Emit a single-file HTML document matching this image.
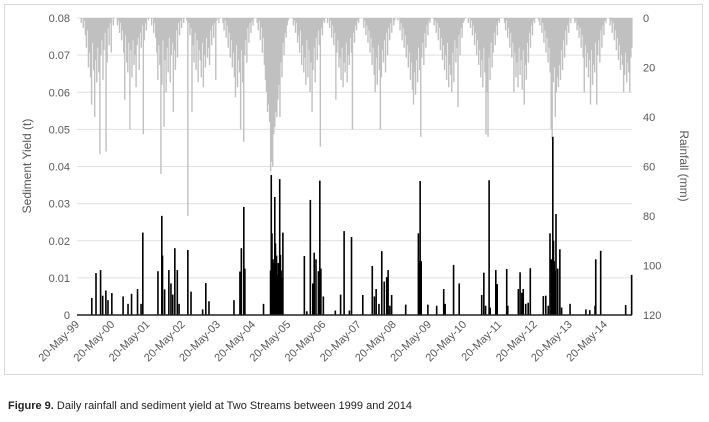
<!DOCTYPE html>
<html><head><meta charset="utf-8"><style>
body{margin:0;background:#fff;width:709px;height:422px;overflow:hidden;font-family:"Liberation Sans",sans-serif}
#cap{position:absolute;left:8px;top:400px;font-size:11px;color:#222}
</style></head><body>
<svg id="chart" width="709" height="422" style="position:absolute;left:0;top:0">
<rect x="4.5" y="4.5" width="698" height="370" fill="none" stroke="#d9d9d9"/>
<g id="grid"></g><g id="rain"></g><g id="sed"></g><g id="axes"></g>
<text transform="translate(31,166) rotate(-90)" text-anchor="middle" font-size="12" fill="#595959">Sediment Yield (t)</text>
<text transform="translate(680,166) rotate(90)" text-anchor="middle" font-size="12" fill="#595959">Rainfall (mm)</text>
</svg>
<div id="cap"><b>Figure 9.</b> Daily rainfall and sediment yield at Two Streams between 1999 and 2014</div>
<script>
const xTickYears=[1999,2000,2001,2002,2003,2004,2005,2006,2007,2008,2009,2010,2011,2012,2013,2014];
const xTickLabels=["20-May-99","20-May-00","20-May-01","20-May-02","20-May-03","20-May-04","20-May-05","20-May-06","20-May-07","20-May-08","20-May-09","20-May-10","20-May-11","20-May-12","20-May-13","20-May-14"];
const yTicks=[0,0.01,0.02,0.03,0.04,0.05,0.06,0.07,0.08];
const yTickLabels=["0","0.01","0.02","0.03","0.04","0.05","0.06","0.07","0.08"];
const y2Ticks=[0,20,40,60,80,100,120];
const rainSeasonStart=[1999.50,2000.50,2001.50,2002.50,2003.50,2004.50,2005.50,2006.50,2007.50,2008.50,2009.50,2010.50,2011.50,2012.50,2013.50,2014.50];
const rainStep=1/34;
const rainMm=[
[2,0,4,1,7,12,5,20,14,24,35,10,21,40,17,26,12,22,55,15,9,25,13,6,54,18,4,11,2,14,0,3],
[0,3,1,6,2,9,5,14,33,7,18,22,10,45,13,24,9,19,15,28,11,8,21,6,12,3,47,9,2,5,0,1],
[3,0,6,2,8,14,25,11,19,63,27,9,44,17,30,12,22,8,26,15,10,38,13,21,5,16,2,7,1,4,0,2],
[1,80,2,7,4,38,11,18,6,21,9,26,13,17,24,10,28,15,20,8,16,12,19,5,11,3,8,2,25,1,0,2],
[0,2,5,1,8,3,12,6,16,9,20,14,24,32,11,28,17,22,45,13,26,50,15,9,18,4,10,2,6,1,3,0],
[2,5,1,9,4,14,8,19,25,30,38,35,42,62,58,60,47,44,38,40,33,27,40,18,24,10,15,6,8,3,1,0],
[0,3,1,6,2,10,7,14,5,19,11,22,16,27,9,24,13,30,18,38,21,12,26,8,17,5,11,52,4,7,1,2],
[2,0,4,1,8,3,11,6,33,14,9,20,16,25,12,28,18,22,10,26,15,19,8,14,45,6,10,3,5,1,2,0],
[0,4,1,7,3,10,5,14,8,19,12,23,30,16,27,11,21,45,24,13,18,9,22,6,15,4,9,2,6,0,3,1],
[1,0,5,2,9,4,12,7,16,11,20,14,25,18,29,35,22,31,17,26,12,21,48,16,10,19,6,12,3,7,1,2],
[0,3,1,6,2,9,4,13,8,17,11,21,15,25,10,28,19,23,30,14,26,9,18,12,36,7,15,4,8,2,1,0],
[2,0,4,1,7,3,11,6,15,9,19,13,24,17,28,12,22,47,30,48,16,25,10,20,14,6,11,3,7,1,2,0],
[0,2,5,1,8,4,12,6,16,10,30,14,24,18,28,12,23,17,29,13,35,19,25,10,18,6,12,3,7,1,2,0],
[1,3,0,6,2,10,5,14,8,18,12,22,45,49,26,20,40,30,24,28,19,25,13,21,9,16,5,11,3,6,0,2],
[0,2,1,5,3,8,4,12,7,16,30,11,20,14,24,17,35,13,27,19,22,10,35,15,9,18,5,12,3,7,1,2],
[0,3,1,6,2,9,5,13,8,17,11,21,15,19,30,23,14,26,18,22,30,16,12,20,24,10,14,6,9,3,5,1]
];
const sedYear=[1999.80,1999.92,2000.05,2000.11,2000.20,2000.26,2000.37,2000.69,2000.83,2000.93,2001.10,2001.20,2001.25,2001.68,2001.79,2001.81,2001.87,2001.99,2002.05,2002.10,2002.16,2002.23,2002.28,2002.53,2002.62,2002.95,2003.04,2003.13,2003.84,2004.01,2004.05,2004.12,2004.15,2004.68,2004.88,2004.90,2004.92,2004.95,2004.97,2005.00,2005.02,2005.05,2005.08,2005.10,2005.14,2005.16,2005.18,2005.20,2005.23,2005.84,2005.91,2006.01,2006.08,2006.12,2006.17,2006.24,2006.28,2006.31,2006.38,2006.72,2006.87,2006.97,2007.12,2007.18,2007.50,2007.77,2007.83,2007.88,2007.96,2008.04,2008.11,2008.18,2008.22,2008.27,2008.32,2008.72,2009.08,2009.10,2009.13,2009.16,2009.35,2009.60,2009.80,2009.84,2010.08,2010.24,2010.88,2010.94,2010.99,2011.09,2011.12,2011.28,2011.32,2011.59,2011.62,2011.92,2011.97,2012.02,2012.06,2012.13,2012.20,2012.26,2012.63,2012.70,2012.77,2012.82,2012.86,2012.90,2012.92,2012.94,2012.96,2012.99,2013.04,2013.10,2013.15,2013.39,2013.84,2013.95,2014.10,2014.12,2014.26,2014.97,2015.14];
const sedT=[0.0046,0.0113,0.0121,0.0052,0.0066,0.0040,0.0059,0.0050,0.0030,0.0057,0.0070,0.0030,0.0222,0.0118,0.0267,0.0160,0.0069,0.0121,0.0085,0.0055,0.0180,0.0121,0.0030,0.0175,0.0063,0.0015,0.0086,0.0037,0.0040,0.0117,0.0180,0.0291,0.0125,0.0030,0.0120,0.0377,0.0220,0.0150,0.0140,0.0318,0.0193,0.0160,0.0107,0.0140,0.0366,0.0162,0.0120,0.0100,0.0222,0.0159,0.0010,0.0310,0.0085,0.0168,0.0150,0.0118,0.0362,0.0125,0.0050,0.0012,0.0055,0.0226,0.0012,0.0210,0.0054,0.0132,0.0050,0.0070,0.0030,0.0172,0.0090,0.0102,0.0121,0.0025,0.0054,0.0028,0.0220,0.0145,0.0361,0.0145,0.0028,0.0025,0.0070,0.0030,0.0135,0.0085,0.0054,0.0114,0.0025,0.0363,0.0020,0.0121,0.0083,0.0124,0.0025,0.0070,0.0115,0.0060,0.0070,0.0030,0.0033,0.0126,0.0051,0.0052,0.0025,0.0220,0.0150,0.0480,0.0200,0.0145,0.0120,0.0272,0.0125,0.0177,0.0020,0.0030,0.0015,0.0013,0.0025,0.0150,0.0173,0.0027,0.0108];

const L=77,R=632,T=18,B=315,X0=1999.38,X1=2015.15;
const xS=y=>L+(y-X0)/(X1-X0)*(R-L);
const yS=v=>B-v/0.08*(B-T);
const y2S=v=>T+v/120*(B-T);
const NS="http://www.w3.org/2000/svg";
function mk(tag,attrs,parent){const e=document.createElementNS(NS,tag);for(const k in attrs)e.setAttribute(k,attrs[k]);parent.appendChild(e);return e;}
const grid=document.getElementById('grid'),axes=document.getElementById('axes'),rain=document.getElementById('rain'),sed=document.getElementById('sed');
yTicks.forEach((v,i)=>{
  if(i>0){const g=mk('line',{x1:L,x2:R,y1:yS(v),y2:yS(v),stroke:'#e0e0e0'},grid);
  
  }
  const t=mk('text',{x:70,y:yS(v)+4,'text-anchor':'end','font-size':11,fill:'#595959'},axes);t.textContent=yTickLabels[i];
  
  
});
y2Ticks.forEach(v=>{
  const t=mk('text',{x:643,y:y2S(v)+4,'text-anchor':'start','font-size':11,fill:'#595959'},axes);t.textContent=v;
  
  
});
rainMm.forEach((arr,k)=>{arr.forEach((mm,i)=>{
  const yr=rainSeasonStart[k]+i*rainStep;const x=xS(yr);if(x>R||mm<=0)return;
  const r=mk('rect',{x:x-0.7,y:T,width:1.4,height:y2S(mm)-T,fill:'#c0c0c0'},rain);
  
  
});});
sedYear.forEach((yr,i)=>{
  const x=xS(yr);if(x>R+1)return;
  const r=mk('rect',{x:x-0.8,y:yS(sedT[i]),width:1.6,height:B-yS(sedT[i]),fill:'#000'},sed);
  
  
});
const ax=mk('line',{x1:L,x2:R,y1:B,y2:B,stroke:'#222','stroke-width':1.5},axes);


xTickYears.forEach((yr,i)=>{
  const x=xS(yr+0.38);
  const t=mk('text',{transform:`translate(${x+3},${B+10}) rotate(-45)`,'text-anchor':'end','font-size':11,fill:'#595959'},axes);t.textContent=xTickLabels[i];
  
  
});
</script>
</body></html>
